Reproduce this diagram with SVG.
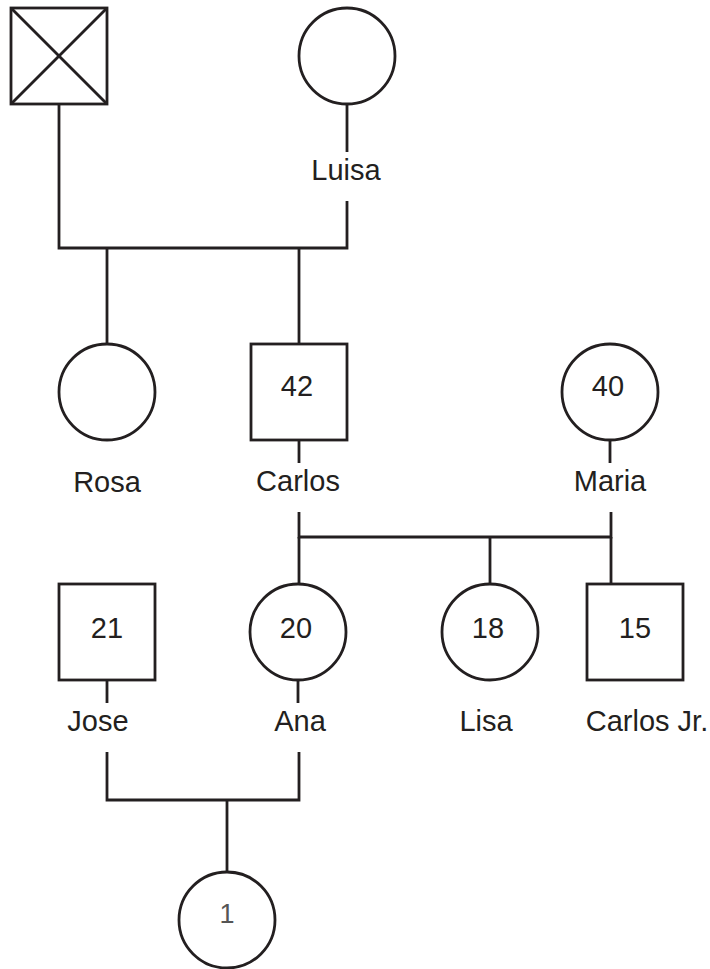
<svg xmlns="http://www.w3.org/2000/svg" width="710" height="969" viewBox="0 0 710 969">
<style>
.s{fill:none;stroke:#231f20;stroke-width:2.8}
.t{font-family:"Liberation Sans",Arial,sans-serif;font-size:29px;fill:#231f20;text-anchor:middle}
</style>
<rect width="710" height="969" fill="#fff"/>
<g id="connectors" class="s">
<polyline points="59,104 59,248 347,248 347,201"/>
<line x1="347" y1="104" x2="347" y2="152"/>
<line x1="107" y1="248" x2="107" y2="344"/>
<line x1="299" y1="248" x2="299" y2="344"/>
<line x1="299" y1="440" x2="299" y2="463"/>
<line x1="610" y1="440" x2="610" y2="463"/>
<polyline points="299,512 299,537 611,537 611,512"/>
<line x1="299" y1="537" x2="299" y2="584"/>
<line x1="490" y1="537" x2="490" y2="584"/>
<line x1="611" y1="537" x2="611" y2="584"/>
<line x1="107" y1="680" x2="107" y2="703"/>
<line x1="298" y1="680" x2="298" y2="703"/>
<polyline points="107,752 107,800 299,800 299,752"/>
<line x1="227" y1="800" x2="227" y2="872"/>
</g>
<g id="grandfather" class="s">
<rect x="11" y="8" width="96" height="96"/>
<line x1="11" y1="8" x2="107" y2="104"/>
<line x1="107" y1="8" x2="11" y2="104"/>
</g>
<g id="luisa">
<circle class="s" cx="347" cy="56" r="48"/>
<text class="t" x="346" y="180">Luisa</text>
</g>
<g id="rosa">
<circle class="s" cx="107" cy="392" r="48"/>
<text class="t" x="107" y="492">Rosa</text>
</g>
<g id="carlos">
<rect class="s" x="251" y="344" width="96" height="96"/>
<text class="t" x="297" y="396">42</text>
<text class="t" x="298" y="491">Carlos</text>
</g>
<g id="maria">
<circle class="s" cx="610" cy="392" r="48"/>
<text class="t" x="608" y="396">40</text>
<text class="t" x="610" y="491">Maria</text>
</g>
<g id="jose">
<rect class="s" x="59" y="584" width="96" height="96"/>
<text class="t" x="107" y="638">21</text>
<text class="t" x="98" y="731">Jose</text>
</g>
<g id="ana">
<circle class="s" cx="298" cy="632" r="48"/>
<text class="t" x="296" y="638">20</text>
<text class="t" x="300" y="731">Ana</text>
</g>
<g id="lisa">
<circle class="s" cx="490" cy="632" r="48"/>
<text class="t" x="488" y="638">18</text>
<text class="t" x="486" y="731">Lisa</text>
</g>
<g id="carlos-jr">
<rect class="s" x="587" y="584" width="96" height="96"/>
<text class="t" x="635" y="638">15</text>
<text class="t" x="647" y="731">Carlos Jr.</text>
</g>
<g id="grandchild">
<circle class="s" cx="227" cy="920" r="48"/>
<text class="t" x="227" y="923" style="fill:#555;font-size:27px">1</text>
</g>
</svg>
